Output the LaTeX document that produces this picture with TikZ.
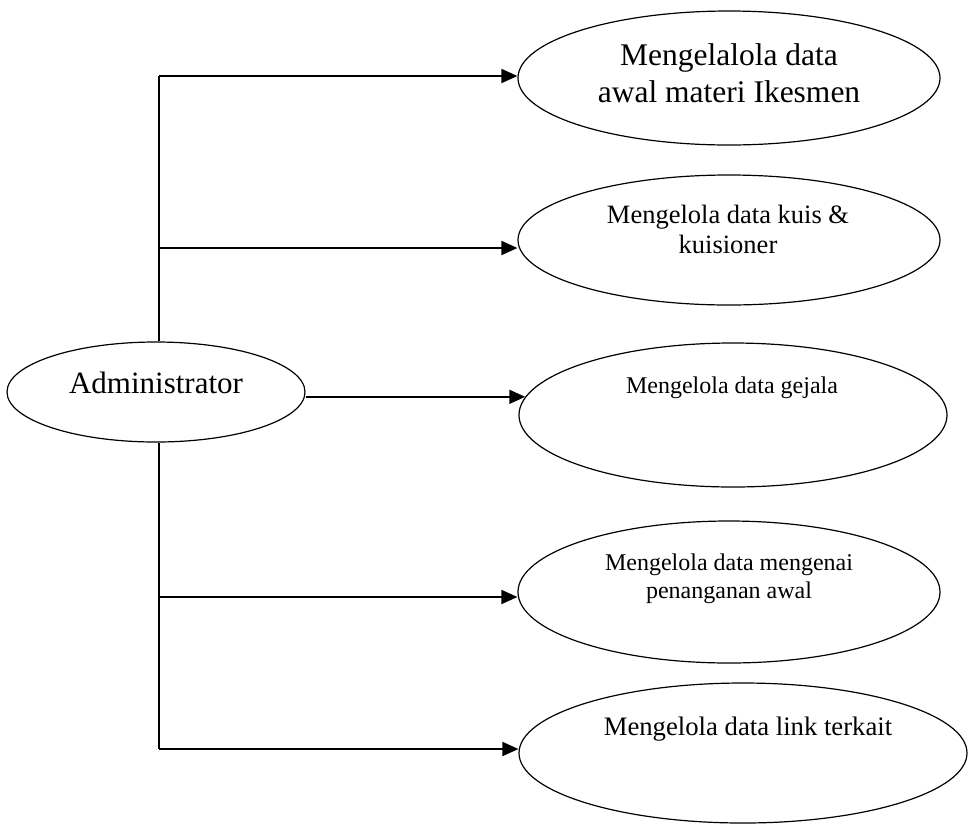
\documentclass[tikz,border=0pt]{standalone}
\usepackage{fontspec}
\setmainfont{Liberation Serif}
\usetikzlibrary{shapes.geometric,arrows.meta}
\begin{document}
\begin{tikzpicture}[x=1pt,y=-1pt,
  uc/.style={draw,ellipse,line width=1.2pt,inner sep=0pt},
  conn/.style={line width=1.8pt,-{Triangle[length=16pt,width=14pt]}},
  trunk/.style={line width=1.6pt},
  txt/.style={inner sep=0pt,align=center,anchor=base}]
\fill[white] (0,0) rectangle (969,823);
\useasboundingbox (0,0) rectangle (969,823);
% use case ellipses
\node[uc,minimum width=422pt,minimum height=134pt] (e1) at (729,78) {};
\node[uc,minimum width=422pt,minimum height=130pt] (e2) at (729,240) {};
\node[uc,minimum width=428pt,minimum height=144pt] (e3) at (733,415) {};
\node[uc,minimum width=422pt,minimum height=142pt] (e4) at (729,592) {};
\node[uc,minimum width=448pt,minimum height=140pt] (e5) at (743,753) {};
\node[uc,minimum width=298pt,minimum height=100pt] (admin) at (156,392) {};
% texts (base = baseline of last line)
\node[txt,font=\fontsize{31.5}{37}\selectfont] (l1) at (729,102) {Mengelalola data\\awal materi Ikesmen};
\node[txt,font=\fontsize{26.5}{30}\selectfont] (l2) at (728,253) {Mengelola data kuis \&\\kuisioner};
\node[txt,font=\fontsize{24}{28}\selectfont] (l3) at (732,393) {Mengelola data gejala};
\node[txt,font=\fontsize{24}{28}\selectfont] (l4) at (729,598) {Mengelola data mengenai\\penanganan awal};
\node[txt,font=\fontsize{26.7}{31}\selectfont] (l5) at (748,735) {Mengelola data link terkait};
\node[txt,font=\fontsize{31}{36}\selectfont] (la) at (156,393) {Administrator};
% trunk coordinates
\coordinate (t1) at (159,76);
\coordinate (t2) at (159,248);
\coordinate (t4) at (159,597);
\coordinate (t5) at (159,749);
% trunk
\draw[trunk] (t1) -- (t1 |- admin.north);
\draw[trunk] (t1 |- admin.south) -- (t5);
% arrows
\draw[conn] (t1) -- (t1 -| e1.west);
\draw[conn] (t2) -- (t2 -| e2.west);
\draw[conn] (admin.east |- e3.175) -- (e3.175);
\draw[conn] (t4) -- (t4 -| e4.west);
\draw[conn] (t5) -- (t5 -| e5.west);
\end{tikzpicture}
\end{document}
